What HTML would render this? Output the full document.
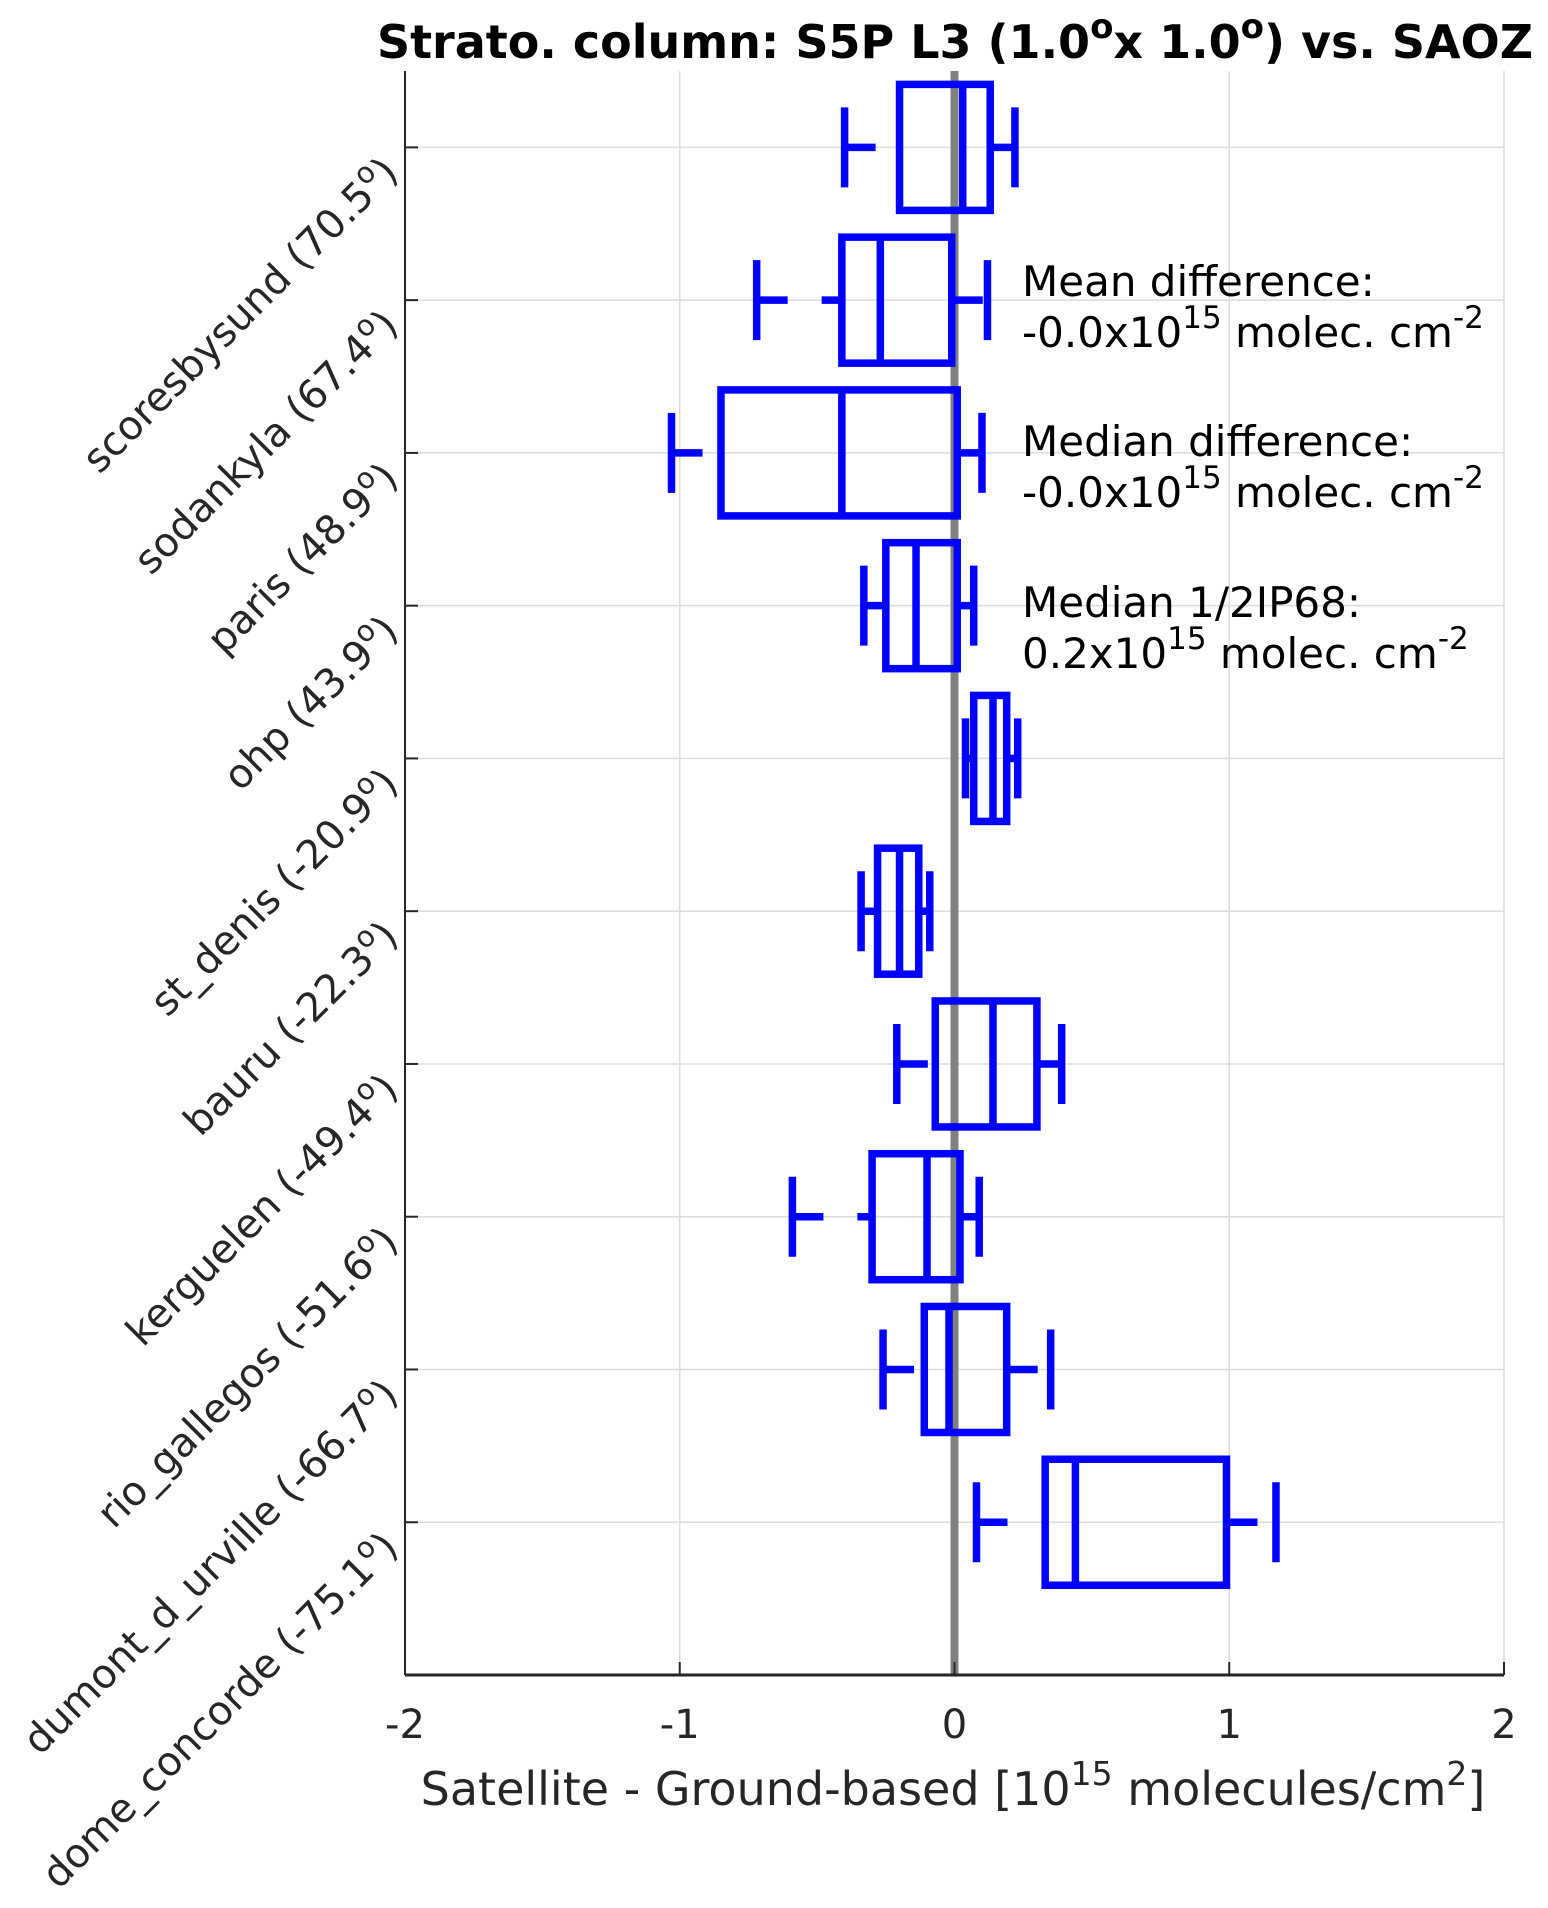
<!DOCTYPE html>
<html><head><meta charset="utf-8"><style>
html,body{margin:0;padding:0;background:#fff;}
svg{display:block;font-family:"DejaVu Sans","Liberation Sans",sans-serif;}
</style></head><body>
<svg id="chart" width="1548" height="1908" viewBox="0 0 1548 1908" xmlns="http://www.w3.org/2000/svg">
<text x="955" y="58" text-anchor="middle" font-size="46" font-weight="bold" fill="#000">Strato. column: S5P L3 (1.0<tspan dy="-20" font-size="34">o</tspan><tspan dy="20">x 1.0</tspan><tspan dy="-20" font-size="34">o</tspan><tspan dy="20">) vs. SAOZ</tspan></text>
<g id="grid"></g>
<g id="marks"></g>
<g id="axes"></g>
<g font-size="42" fill="#000">
<text x="1022" y="296">Mean difference:</text>
<text x="1022" y="347">-0.0x10<tspan dy="-19" font-size="31">15</tspan><tspan dy="19"> molec. cm</tspan><tspan dy="-19" font-size="31">-2</tspan></text>
<text x="1022" y="456">Median difference:</text>
<text x="1022" y="507">-0.0x10<tspan dy="-19" font-size="31">15</tspan><tspan dy="19"> molec. cm</tspan><tspan dy="-19" font-size="31">-2</tspan></text>
<text x="1022" y="617">Median 1/2IP68:</text>
<text x="1022" y="668">0.2x10<tspan dy="-19" font-size="31">15</tspan><tspan dy="19"> molec. cm</tspan><tspan dy="-19" font-size="31">-2</tspan></text>
</g>
<text x="953" y="1805" text-anchor="middle" font-size="46" fill="#262626">Satellite - Ground-based [10<tspan dy="-20" font-size="33">15</tspan><tspan dy="20"> molecules/cm</tspan><tspan dy="-20" font-size="33">2</tspan><tspan dy="20">]</tspan></text>
</svg>
<script>
const stations = ["scoresbysund","sodankyla","paris","ohp","st_denis","bauru","kerguelen","rio_gallegos","dumont_d_urville","dome_concorde"];
const latitudes = ["70.5","67.4","48.9","43.9","-20.9","-22.3","-49.4","-51.6","-66.7","-75.1"];
const whiskerLo = [-0.40,-0.72,-1.03,-0.33,0.04,-0.34,-0.21,-0.59,-0.26,0.08];
const q1 = [-0.20,-0.41,-0.85,-0.25,0.07,-0.28,-0.07,-0.30,-0.11,0.33];
const median = [0.03,-0.27,-0.41,-0.14,0.14,-0.20,0.14,-0.10,-0.02,0.44];
const q3 = [0.13,-0.01,0.01,0.01,0.19,-0.13,0.30,0.02,0.19,0.99];
const whiskerHi = [0.22,0.12,0.10,0.07,0.23,-0.09,0.39,0.09,0.35,1.17];
const xTicks = [-2,-1,0,1,2];
const xTickLabels = ["-2","-1","0","1","2"];

const NS="http://www.w3.org/2000/svg";
const L=405,R=1504,T=71,B=1675;
const xs=v=>L+(v+2)/4*(R-L);
const ys=p=>T+(p-0.5)*(B-T)/10.5;
function mk(tag,parent,attrs){const e=document.createElementNS(NS,tag);for(const k in attrs)e.setAttribute(k,attrs[k]);parent.appendChild(e);return e;}
const grid=document.getElementById('grid'),marks=document.getElementById('marks'),axes=document.getElementById('axes');
xTicks.forEach((t,i)=>{
  const g=mk('line',grid,{x1:xs(t),x2:xs(t),y1:T,y2:B,stroke:'#dcdcdc','stroke-width':1.5});
  
  
  const tk=mk('line',axes,{x1:xs(t),x2:xs(t),y1:B,y2:B-13,stroke:'#262626','stroke-width':2});
  
  
  const lb=mk('text',axes,{x:xs(t),y:1738,'text-anchor':'middle','font-size':40,fill:'#262626'});
  lb.textContent=xTickLabels[i];
  
  
});
stations.forEach((s,i)=>{
  const y=ys(i+1);
  const g=mk('line',grid,{x1:L,x2:R,y1:y,y2:y,stroke:'#dcdcdc','stroke-width':1.5});
  
  
  const tk=mk('line',axes,{x1:L,x2:L+13,y1:y,y2:y,stroke:'#262626','stroke-width':2});
  
  
  const ax=400,ay=y+27;
  const lb=mk('text',axes,{x:ax,y:ay,'text-anchor':'end','font-size':40,fill:'#262626',transform:`rotate(-45 ${ax} ${ay})`});
  lb.textContent=s+' ('+latitudes[i];
  const sup=mk('tspan',lb,{dy:-16,'font-size':29});sup.textContent='o';
  const cl=mk('tspan',lb,{dy:16});cl.textContent=')';
  
  
});
const z=mk('line',marks,{x1:xs(0),x2:xs(0),y1:T,y2:B,stroke:'#808080','stroke-width':8});


const BH=63,CH=40,SW=7.5,blue='#0000ff';
stations.forEach((s,i)=>{
  const y=ys(i+1);
  const g=mk('g',marks,{stroke:blue,'stroke-width':SW,fill:'none'});
  
  
  mk('line',g,{x1:xs(whiskerLo[i]),x2:xs(q1[i]),y1:y,y2:y,'stroke-dasharray':'31 34'});
  mk('line',g,{x1:xs(q3[i]),x2:xs(whiskerHi[i]),y1:y,y2:y,'stroke-dasharray':'31 34'});
  mk('line',g,{x1:xs(whiskerLo[i]),x2:xs(whiskerLo[i]),y1:y-CH,y2:y+CH});
  mk('line',g,{x1:xs(whiskerHi[i]),x2:xs(whiskerHi[i]),y1:y-CH,y2:y+CH});
  mk('rect',g,{x:xs(q1[i]),y:y-BH,width:xs(q3[i])-xs(q1[i]),height:2*BH});
  mk('line',g,{x1:xs(median[i]),x2:xs(median[i]),y1:y-BH,y2:y+BH});
});
const ay=mk('line',axes,{x1:L,x2:L,y1:T,y2:B,stroke:'#262626','stroke-width':2});


const axx=mk('line',axes,{x1:L,x2:R,y1:B,y2:B,stroke:'#262626','stroke-width':3});


</script>
</body></html>
